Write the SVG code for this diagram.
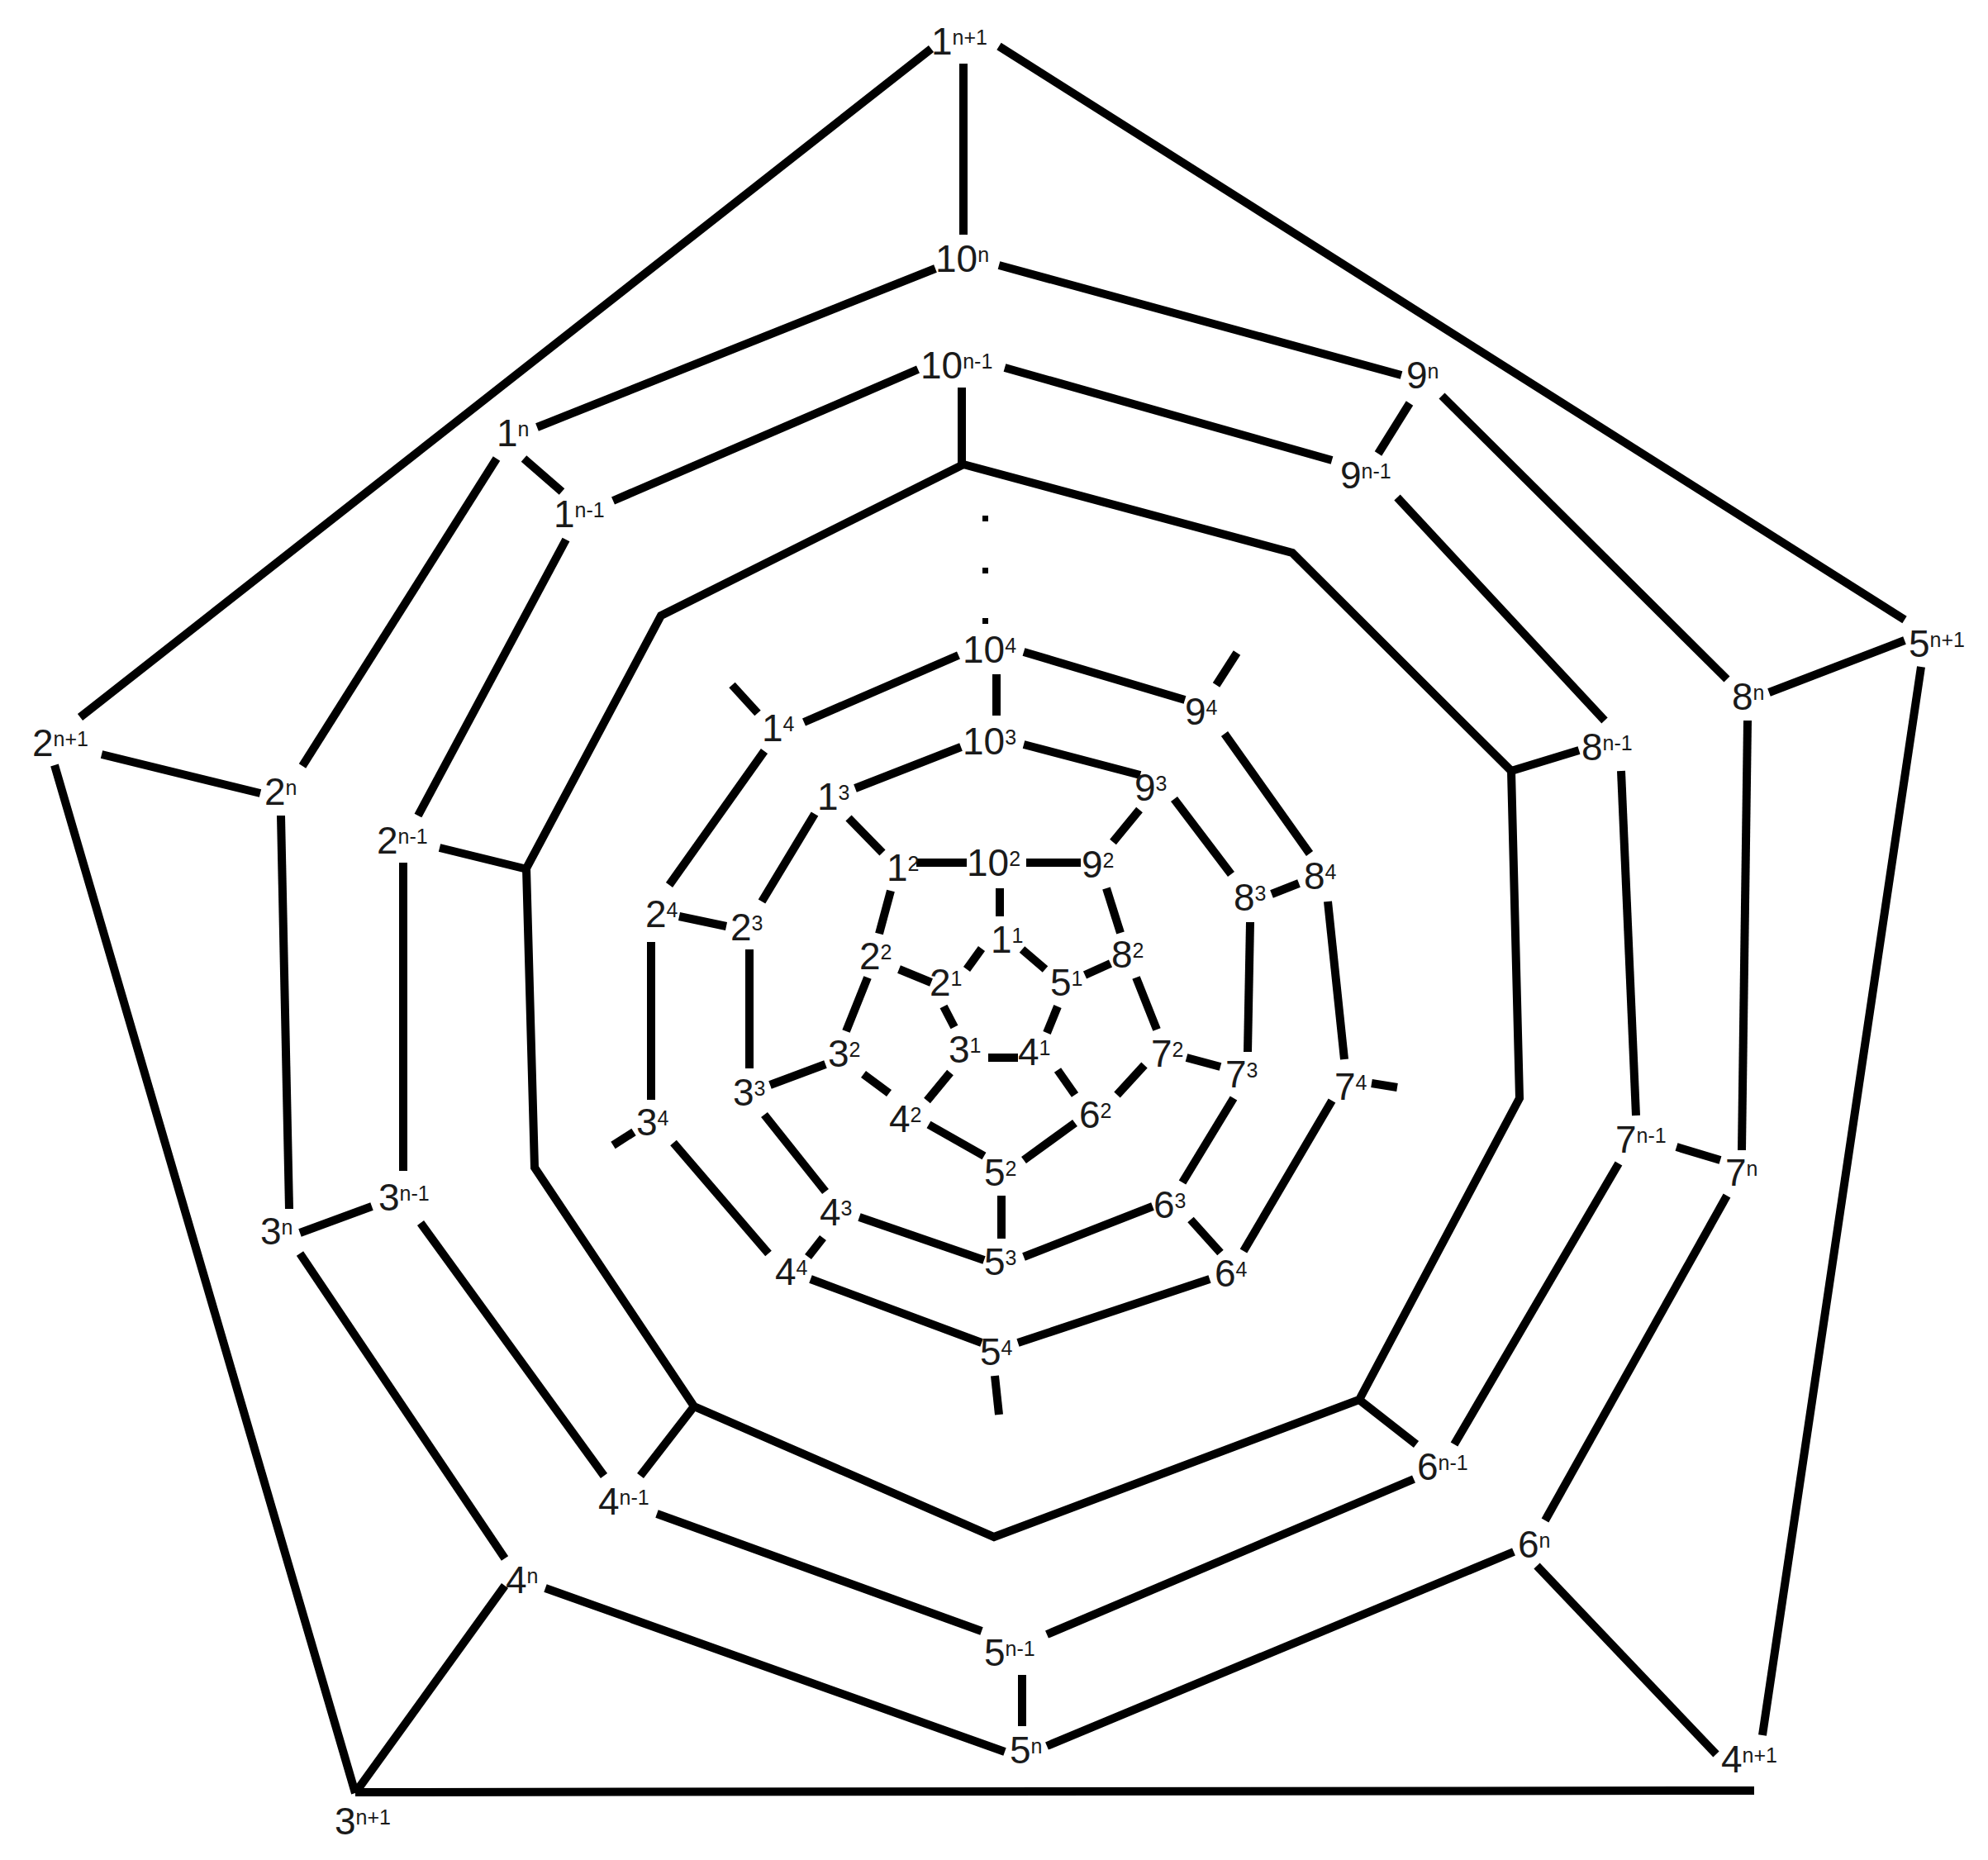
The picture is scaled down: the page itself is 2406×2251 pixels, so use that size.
<svg xmlns="http://www.w3.org/2000/svg" width="2406" height="2251" viewBox="0 0 2406 2251">
<style>
.e{stroke:#000;stroke-width:10;fill:none;stroke-linecap:butt;stroke-linejoin:miter}
.l{font-family:"Liberation Sans",Arial,sans-serif;font-size:46px;fill:#1a1a1a}
.s{font-size:25px}
</style>
<rect width="2406" height="2251" fill="#fff"/>
<g id="connectors" class="e">
<!-- outer pentagon -->
<line x1="1127" y1="59" x2="97" y2="868"/>
<line x1="1209" y1="56" x2="2305" y2="750"/>
<line x1="1166" y1="77" x2="1166" y2="284"/>
<line x1="2325" y1="807" x2="2133" y2="2100"/>
<line x1="430" y1="2169" x2="2123" y2="2167"/>
<line x1="430" y1="2170" x2="66" y2="926"/>
<line x1="432" y1="2167" x2="611" y2="1919"/>
<line x1="2077" y1="2123" x2="1860" y2="1895"/>
<line x1="2305" y1="775" x2="2141" y2="838"/>
<line x1="123" y1="913" x2="315" y2="960"/>
<!-- ring n -->
<line x1="1209" y1="321" x2="1696" y2="454"/>
<line x1="1132" y1="325" x2="650" y2="517"/>
<line x1="1745" y1="479" x2="2090" y2="822"/>
<line x1="2115" y1="872" x2="2108" y2="1392"/>
<line x1="2090" y1="1447" x2="1870" y2="1840"/>
<line x1="1832" y1="1878" x2="1267" y2="2113"/>
<line x1="1216" y1="2120" x2="660" y2="1922"/>
<line x1="611" y1="1886" x2="363" y2="1517"/>
<line x1="350" y1="1463" x2="340" y2="987"/>
<line x1="366" y1="927" x2="601" y2="555"/>
<!-- spokes n to n-1 -->
<line x1="1668" y1="549" x2="1706" y2="488"/>
<line x1="2029" y1="1388" x2="2082" y2="1404"/>
<line x1="1237" y1="2027" x2="1237" y2="2089"/>
<line x1="450" y1="1460" x2="363" y2="1492"/>
<line x1="680" y1="595" x2="634" y2="555"/>
<!-- ring n-1 -->
<line x1="1216" y1="445" x2="1612" y2="557"/>
<line x1="1111" y1="447" x2="742" y2="606"/>
<line x1="1691" y1="602" x2="1942" y2="872"/>
<line x1="1962" y1="933" x2="1980" y2="1350"/>
<line x1="1959" y1="1408" x2="1760" y2="1748"/>
<line x1="1711" y1="1790" x2="1267" y2="1978"/>
<line x1="1188" y1="1974" x2="795" y2="1832"/>
<line x1="731" y1="1786" x2="509" y2="1480"/>
<line x1="488" y1="1044" x2="488" y2="1417"/>
<line x1="506" y1="987" x2="685" y2="653"/>
<!-- spokes n-1 to intermediate ring -->
<line x1="1164" y1="469" x2="1164" y2="562"/>
<line x1="1911" y1="908" x2="1829" y2="933"/>
<line x1="1714" y1="1748" x2="1645" y2="1694"/>
<line x1="775" y1="1786" x2="840" y2="1702"/>
<line x1="532" y1="1026" x2="634" y2="1051"/>
<!-- intermediate ring -->
<polygon points="1166,562 1564,669 1829,933 1839,1329 1645,1694 1203,1860 840,1702 647,1413 637,1051 800,745"/>
<!-- ring 4 -->
<line x1="1160" y1="793" x2="973" y2="874"/>
<line x1="1239" y1="789" x2="1434" y2="847"/>
<line x1="1206" y1="816" x2="1206" y2="866"/>
<line x1="1472" y1="829" x2="1497" y2="790"/>
<line x1="917" y1="863" x2="886" y2="829"/>
<line x1="1482" y1="888" x2="1585" y2="1033"/>
<line x1="1539" y1="1082" x2="1572" y2="1069"/>
<line x1="1607" y1="1091" x2="1627" y2="1282"/>
<line x1="1660" y1="1311" x2="1691" y2="1316"/>
<line x1="1612" y1="1332" x2="1505" y2="1514"/>
<line x1="1464" y1="1548" x2="1232" y2="1625"/>
<line x1="1477" y1="1516" x2="1441" y2="1476"/>
<line x1="1204" y1="1665" x2="1209" y2="1712"/>
<line x1="1188" y1="1625" x2="981" y2="1548"/>
<line x1="978" y1="1521" x2="996" y2="1498"/>
<line x1="930" y1="1517" x2="815" y2="1383"/>
<line x1="767" y1="1370" x2="742" y2="1386"/>
<line x1="788" y1="1140" x2="788" y2="1331"/>
<line x1="810" y1="1071" x2="925" y2="909"/>
<line x1="822" y1="1109" x2="879" y2="1121"/>
<!-- ring 3 -->
<line x1="1163" y1="904" x2="1035" y2="954"/>
<line x1="1239" y1="901" x2="1380" y2="938"/>
<line x1="1421" y1="967" x2="1490" y2="1058"/>
<line x1="1379" y1="980" x2="1347" y2="1019"/>
<line x1="1513" y1="1116" x2="1510" y2="1273"/>
<line x1="1493" y1="1329" x2="1431" y2="1431"/>
<line x1="1477" y1="1291" x2="1436" y2="1280"/>
<line x1="1395" y1="1460" x2="1239" y2="1521"/>
<line x1="1212" y1="1447" x2="1212" y2="1499"/>
<line x1="1191" y1="1525" x2="1040" y2="1473"/>
<line x1="999" y1="1442" x2="925" y2="1349"/>
<line x1="932" y1="1313" x2="999" y2="1288"/>
<line x1="907" y1="1149" x2="907" y2="1293"/>
<line x1="922" y1="1091" x2="986" y2="985"/>
<line x1="1027" y1="990" x2="1068" y2="1032"/>
<!-- ring 2 -->
<line x1="1109" y1="1044" x2="1170" y2="1044"/>
<line x1="1242" y1="1044" x2="1308" y2="1044"/>
<line x1="1210" y1="1075" x2="1210" y2="1109"/>
<line x1="1339" y1="1075" x2="1356" y2="1129"/>
<line x1="1078" y1="1078" x2="1064" y2="1130"/>
<line x1="1375" y1="1183" x2="1400" y2="1246"/>
<line x1="1385" y1="1289" x2="1352" y2="1325"/>
<line x1="1301" y1="1359" x2="1239" y2="1404"/>
<line x1="1191" y1="1399" x2="1124" y2="1361"/>
<line x1="1076" y1="1323" x2="1045" y2="1300"/>
<line x1="1024" y1="1248" x2="1050" y2="1183"/>
<!-- ring 1 and spokes -->
<line x1="1237" y1="1149" x2="1265" y2="1173"/>
<line x1="1280" y1="1218" x2="1267" y2="1250"/>
<line x1="1196" y1="1280" x2="1232" y2="1280"/>
<line x1="1155" y1="1243" x2="1142" y2="1218"/>
<line x1="1170" y1="1173" x2="1188" y2="1148"/>
<line x1="1313" y1="1180" x2="1344" y2="1166"/>
<line x1="1280" y1="1295" x2="1301" y2="1325"/>
<line x1="1150" y1="1298" x2="1122" y2="1332"/>
<line x1="1127" y1="1189" x2="1088" y2="1173"/>
</g>
<g id="dots" fill="#000">
<rect x="1189" y="624" width="7" height="7"/>
<rect x="1189" y="687" width="7" height="7"/>
<rect x="1189" y="748" width="7" height="7"/>
</g>
<g id="nodes" class="l">
<g id="v1_np1"><text x="1127" y="66">1<tspan class="s" dy="-12">n+1</tspan></text></g>
<g id="v10_n"><text x="1132" y="329">10<tspan class="s" dy="-12">n</tspan></text></g>
<g id="v10_nm1"><text x="1114" y="458">10<tspan class="s" dy="-12">n-1</tspan></text></g>
<g id="v9_n"><text x="1702" y="470">9<tspan class="s" dy="-12">n</tspan></text></g>
<g id="v9_nm1"><text x="1622" y="591">9<tspan class="s" dy="-12">n-1</tspan></text></g>
<g id="v1_n"><text x="601" y="540">1<tspan class="s" dy="-12">n</tspan></text></g>
<g id="v1_nm1"><text x="670" y="638">1<tspan class="s" dy="-12">n-1</tspan></text></g>
<g id="v5_np1"><text x="2310" y="795">5<tspan class="s" dy="-12">n+1</tspan></text></g>
<g id="v8_n"><text x="2096" y="859">8<tspan class="s" dy="-12">n</tspan></text></g>
<g id="v8_nm1"><text x="1914" y="920">8<tspan class="s" dy="-12">n-1</tspan></text></g>
<g id="v2_np1"><text x="39" y="915">2<tspan class="s" dy="-12">n+1</tspan></text></g>
<g id="v2_n"><text x="320" y="974">2<tspan class="s" dy="-12">n</tspan></text></g>
<g id="v2_nm1"><text x="456" y="1033">2<tspan class="s" dy="-12">n-1</tspan></text></g>
<g id="v10_4"><text x="1165" y="802">10<tspan class="s" dy="-12">4</tspan></text></g>
<g id="v1_4"><text x="922" y="897">1<tspan class="s" dy="-12">4</tspan></text></g>
<g id="v9_4"><text x="1434" y="877">9<tspan class="s" dy="-12">4</tspan></text></g>
<g id="v10_3"><text x="1165" y="913">10<tspan class="s" dy="-12">3</tspan></text></g>
<g id="v1_3"><text x="989" y="980">1<tspan class="s" dy="-12">3</tspan></text></g>
<g id="v9_3"><text x="1373" y="969">9<tspan class="s" dy="-12">3</tspan></text></g>
<g id="v1_2"><text x="1073" y="1066">1<tspan class="s" dy="-12">2</tspan></text></g>
<g id="v10_2"><text x="1170" y="1060">10<tspan class="s" dy="-12">2</tspan></text></g>
<g id="v9_2"><text x="1309" y="1062">9<tspan class="s" dy="-12">2</tspan></text></g>
<g id="v8_3"><text x="1493" y="1102">8<tspan class="s" dy="-12">3</tspan></text></g>
<g id="v8_4"><text x="1578" y="1076">8<tspan class="s" dy="-12">4</tspan></text></g>
<g id="v2_4"><text x="781" y="1122">2<tspan class="s" dy="-12">4</tspan></text></g>
<g id="v2_3"><text x="884" y="1138">2<tspan class="s" dy="-12">3</tspan></text></g>
<g id="v2_2"><text x="1040" y="1173">2<tspan class="s" dy="-12">2</tspan></text></g>
<g id="v1_1"><text x="1199" y="1153">1<tspan class="s" dy="-12">1</tspan></text></g>
<g id="v2_1"><text x="1125" y="1205">2<tspan class="s" dy="-12">1</tspan></text></g>
<g id="v5_1"><text x="1271" y="1205">5<tspan class="s" dy="-12">1</tspan></text></g>
<g id="v8_2"><text x="1345" y="1171">8<tspan class="s" dy="-12">2</tspan></text></g>
<g id="v3_2"><text x="1002" y="1291">3<tspan class="s" dy="-12">2</tspan></text></g>
<g id="v3_1"><text x="1148" y="1286">3<tspan class="s" dy="-12">1</tspan></text></g>
<g id="v4_1"><text x="1232" y="1289">4<tspan class="s" dy="-12">1</tspan></text></g>
<g id="v7_2"><text x="1393" y="1291">7<tspan class="s" dy="-12">2</tspan></text></g>
<g id="v7_3"><text x="1483" y="1316">7<tspan class="s" dy="-12">3</tspan></text></g>
<g id="v3_3"><text x="887" y="1338">3<tspan class="s" dy="-12">3</tspan></text></g>
<g id="v7_4"><text x="1615" y="1331">7<tspan class="s" dy="-12">4</tspan></text></g>
<g id="v4_2"><text x="1076" y="1370">4<tspan class="s" dy="-12">2</tspan></text></g>
<g id="v6_2"><text x="1306" y="1365">6<tspan class="s" dy="-12">2</tspan></text></g>
<g id="v3_4"><text x="770" y="1374">3<tspan class="s" dy="-12">4</tspan></text></g>
<g id="v5_2"><text x="1191" y="1435">5<tspan class="s" dy="-12">2</tspan></text></g>
<g id="v4_3"><text x="992" y="1483">4<tspan class="s" dy="-12">3</tspan></text></g>
<g id="v6_3"><text x="1396" y="1474">6<tspan class="s" dy="-12">3</tspan></text></g>
<g id="v5_3"><text x="1191" y="1543">5<tspan class="s" dy="-12">3</tspan></text></g>
<g id="v4_4"><text x="938" y="1555">4<tspan class="s" dy="-12">4</tspan></text></g>
<g id="v6_4"><text x="1470" y="1557">6<tspan class="s" dy="-12">4</tspan></text></g>
<g id="v5_4"><text x="1186" y="1652">5<tspan class="s" dy="-12">4</tspan></text></g>
<g id="v3_n"><text x="315" y="1506">3<tspan class="s" dy="-12">n</tspan></text></g>
<g id="v3_nm1"><text x="458" y="1465">3<tspan class="s" dy="-12">n-1</tspan></text></g>
<g id="v7_nm1"><text x="1955" y="1395">7<tspan class="s" dy="-12">n-1</tspan></text></g>
<g id="v7_n"><text x="2088" y="1435">7<tspan class="s" dy="-12">n</tspan></text></g>
<g id="v4_nm1"><text x="724" y="1833">4<tspan class="s" dy="-12">n-1</tspan></text></g>
<g id="v6_nm1"><text x="1715" y="1791">6<tspan class="s" dy="-12">n-1</tspan></text></g>
<g id="v6_n"><text x="1837" y="1885">6<tspan class="s" dy="-12">n</tspan></text></g>
<g id="v4_n"><text x="612" y="1928">4<tspan class="s" dy="-12">n</tspan></text></g>
<g id="v5_nm1"><text x="1191" y="2016">5<tspan class="s" dy="-12">n-1</tspan></text></g>
<g id="v5_n"><text x="1222" y="2134">5<tspan class="s" dy="-12">n</tspan></text></g>
<g id="v4_np1"><text x="2083" y="2145">4<tspan class="s" dy="-12">n+1</tspan></text></g>
<g id="v3_np1"><text x="405" y="2220">3<tspan class="s" dy="-12">n+1</tspan></text></g>
</g>
</svg>
